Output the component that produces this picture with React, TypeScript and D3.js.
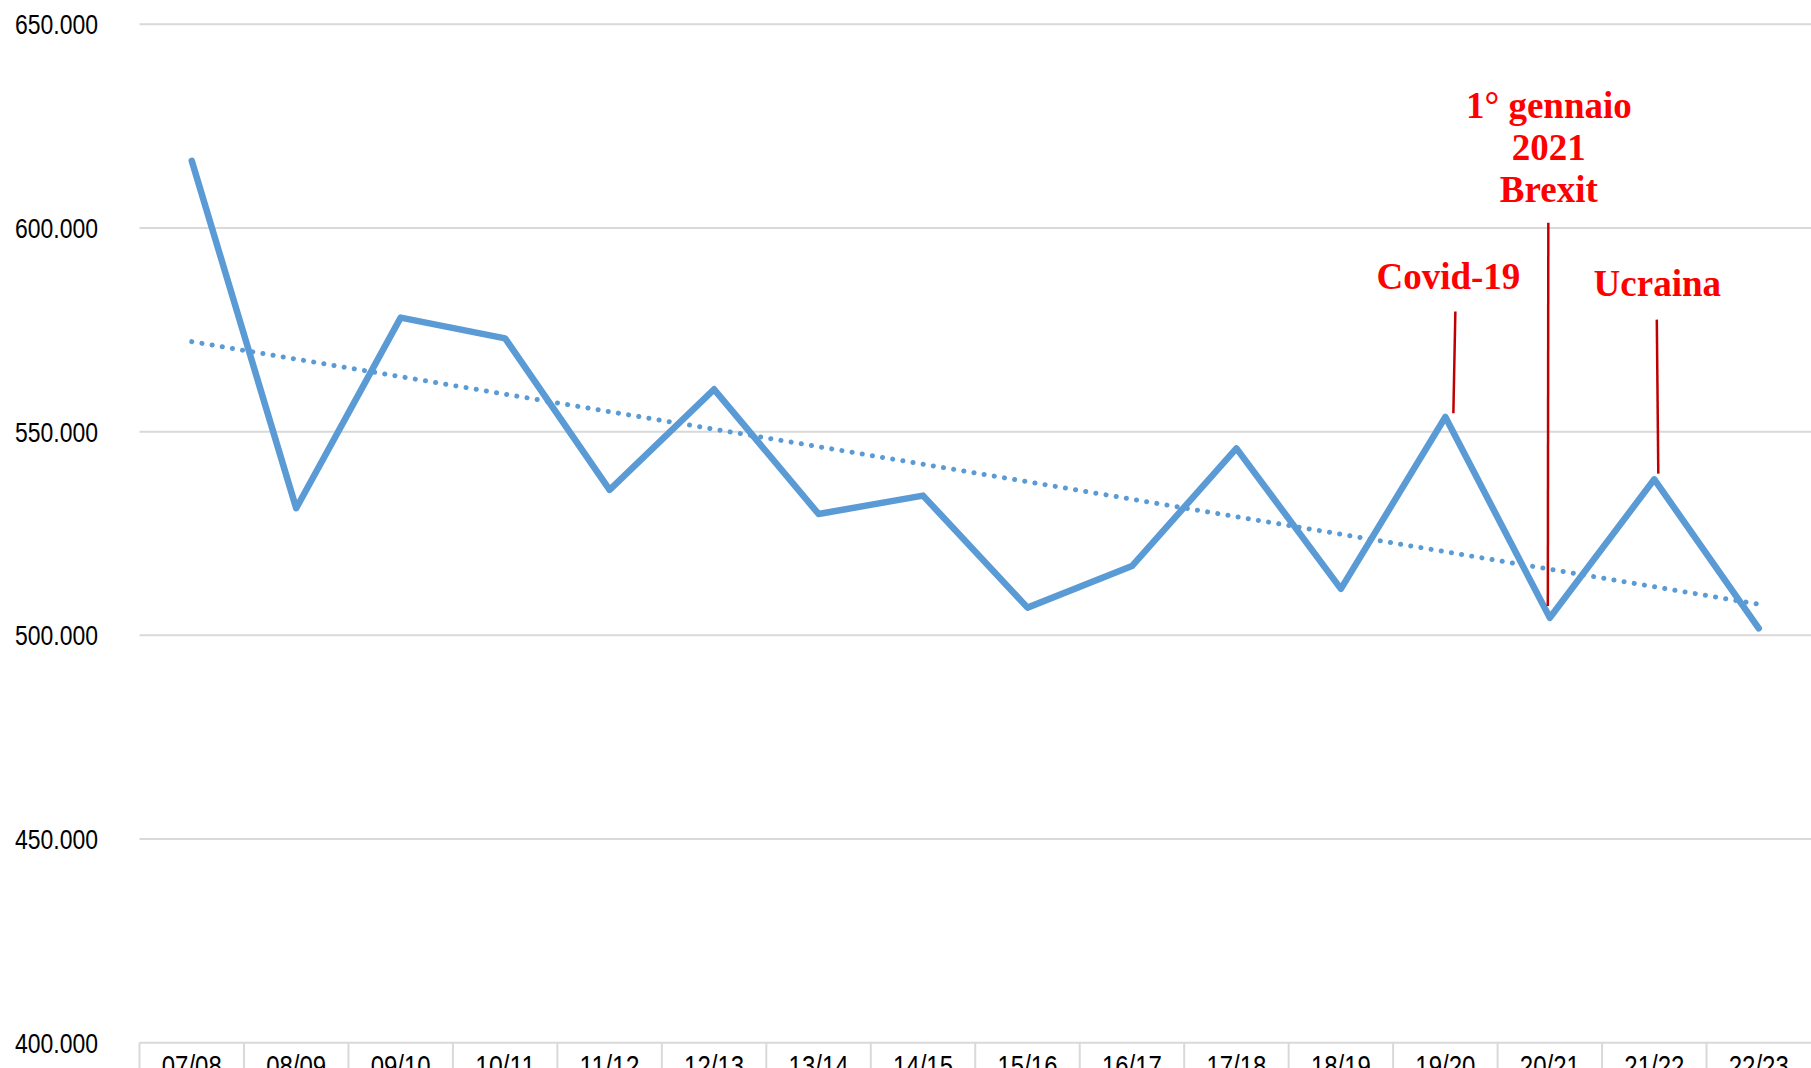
import React from "react";
import * as d3 from "d3";

const categories = ["07/08","08/09","09/10","10/11","11/12","12/13","13/14","14/15","15/16","16/17","17/18","18/19","19/20","20/21","21/22","22/23"];
const values = [616500, 531200, 578000, 572900, 535700, 560400, 529800, 534300, 506800, 517000, 545900, 511400, 553600, 504300, 538300, 501700];
const yTicks = [400000, 450000, 500000, 550000, 600000, 650000];

const annotationCats = ["19/20", "20/21", "21/22"];
const annotationTexts = [["Covid-19"], ["1° gennaio", "2021", "Brexit"], ["Ucraina"]];
const annotationLineTop = [579500, 601300, 577500];
const annotationLineBottom = [554500, 507200, 539700];
const annotationTextBase = [585000, 627000, 583200];

const W = 1811, H = 1068;
const left = 139.5, right = 1811, top = 24.3, bottom = 1042.7;

export default function App() {
  const x = d3.scaleBand<string>().domain(categories).range([left, right]).padding(0);
  const y = d3.scaleLinear().domain([400000, 650000]).range([bottom, top]);
  const cx = (c: string) => (x(c) as number) + x.bandwidth() / 2;
  const locale = d3.formatLocale({ decimal: ",", thousands: ".", grouping: [3], currency: ["€", ""] });
  const fmt = locale.format(",");

  const line = d3.line<number>().x((_, i) => cx(categories[i])).y((d) => y(d));

  // linear trend (least squares) as in the source chart
  const n = values.length;
  const xm = (n - 1) / 2;
  const ym = d3.mean(values) as number;
  let sxy = 0, sxx = 0;
  values.forEach((v, i) => { sxy += (i - xm) * (v - ym); sxx += (i - xm) * (i - xm); });
  const slope = sxy / sxx;
  const trend = values.map((_, i) => ym + slope * (i - xm));

  const lineOffsets = [[10, 8], [-1.5, -2], [2.5, 4]];
  const textOffsets = [3, -1, 3];
  const lineHeight = 42;
  const sans = "'Liberation Sans',Arial,sans-serif";

  return (
    <svg width={W} height={H} style={{ position: "absolute", left: 0, top: 0, background: "#fff" }}>
      <rect x={0} y={0} width={W} height={H} fill="#fff" />
      {yTicks.map((t) => (
        <g key={t}>
          <line x1={left} x2={right} y1={y(t)} y2={y(t)} stroke="#d9d9d9" strokeWidth={2} />
          <text x={15} y={y(t)} dy="0.35em" textAnchor="start" fontFamily={sans} fontSize={28.5} fill="#000" textLength={83} lengthAdjust="spacingAndGlyphs">
            {fmt(t)}
          </text>
        </g>
      ))}
      {categories.map((c) => (
        <g key={c}>
          <line x1={x(c) as number} x2={x(c) as number} y1={bottom} y2={H} stroke="#d9d9d9" strokeWidth={2} />
          <text x={cx(c) - 30} y={1076} textAnchor="start" fontFamily={sans} fontSize={30} fill="#000" textLength={60} lengthAdjust="spacingAndGlyphs">
            {c}
          </text>
        </g>
      ))}
      <path d={line(trend) as string} fill="none" stroke="#5B9BD5" strokeWidth={5} strokeDasharray="0.1 10.2" strokeLinecap="round" />
      <path d={line(values) as string} fill="none" stroke="#5B9BD5" strokeWidth={6.5} strokeLinejoin="round" strokeLinecap="round" />
      {annotationCats.map((c, i) => {
        const base = cx(c);
        const texts = annotationTexts[i];
        const yb = y(annotationTextBase[i]);
        return (
          <g key={c}>
            <line x1={base + lineOffsets[i][0]} x2={base + lineOffsets[i][1]} y1={y(annotationLineTop[i])} y2={y(annotationLineBottom[i])} stroke="#c00000" strokeWidth={2.5} />
            {texts.map((t, j) => (
              <text key={j} x={base + textOffsets[i]} y={yb + j * lineHeight} textAnchor="middle" fontFamily="'Liberation Serif','DejaVu Serif',serif" fontWeight="bold" fontSize={37} fill="#ff0000">
                {t}
              </text>
            ))}
          </g>
        );
      })}
    </svg>
  );
}
